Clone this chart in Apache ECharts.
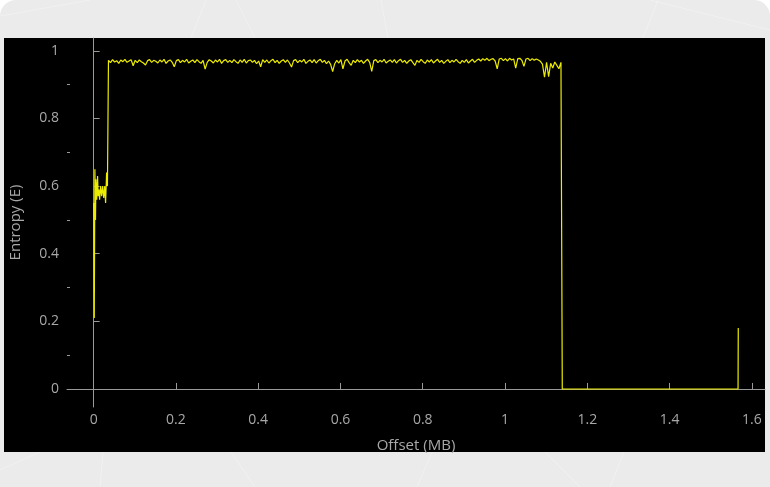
<!DOCTYPE html>
<html>
<head>
<meta charset="utf-8">
<script src="https://cdn.jsdelivr.net/npm/echarts@6/dist/echarts.min.js"></script>
<style>
  html, body { margin: 0; padding: 0; background: #ffffff; }
  #card { position: relative; width: 770px; height: 487px; background: #ebebeb; border-radius: 16px 16px 0 0; overflow: hidden; }
  #chart { position: absolute; left: 0; top: 0; width: 770px; height: 487px; }
</style>
</head>
<body>
<div id="card"><div id="chart"></div></div>
<script>
// Entropy of a firmware image, sampled per block (offset in MB).

// Header region: irregular samples near the start of the file
const headOffsets = [0.0000, 0.0003, 0.0015, 0.0030, 0.0045, 0.0055, 0.0075, 0.0095, 0.0110, 0.0130,
                     0.0145, 0.0170, 0.0195, 0.0220, 0.0245, 0.0270, 0.0290, 0.0315, 0.0335];
const headEntropy = [0.55, 0.50, 0.21, 0.65, 0.50, 0.62, 0.56, 0.63, 0.57, 0.59,
                     0.56, 0.60, 0.57, 0.60, 0.565, 0.60, 0.55, 0.64, 0.60];

// Compressed body: one sample per block
const bodyStart = 0.036;
const bodyBlock = 0.005;
const bodyEntropy = [
  0.972, 0.965, 0.974, 0.967, 0.971, 0.963, 0.973, 0.968, 0.975, 0.966,
  0.970, 0.974, 0.956, 0.972, 0.965, 0.973, 0.968, 0.964, 0.958, 0.971,
  0.974, 0.966, 0.972, 0.969, 0.964, 0.973, 0.967, 0.975, 0.963, 0.970,
  0.973, 0.966, 0.953, 0.971, 0.974, 0.965, 0.972, 0.967, 0.975, 0.964,
  0.969, 0.973, 0.965, 0.974, 0.968, 0.963, 0.972, 0.946, 0.966, 0.974,
  0.970, 0.964, 0.973, 0.967, 0.975, 0.963, 0.971, 0.974, 0.966, 0.972,
  0.965, 0.974, 0.968, 0.963, 0.973, 0.966, 0.975, 0.964, 0.971, 0.973,
  0.966, 0.972, 0.962, 0.970, 0.953, 0.974, 0.966, 0.973, 0.964, 0.971,
  0.975, 0.965, 0.972, 0.963, 0.970, 0.974, 0.966, 0.973, 0.964, 0.952,
  0.971, 0.974, 0.965, 0.972, 0.967, 0.975, 0.963, 0.969, 0.973, 0.965,
  0.974, 0.964, 0.971, 0.975, 0.966, 0.972, 0.962, 0.970, 0.960, 0.939,
  0.962, 0.972, 0.964, 0.974, 0.947, 0.970, 0.975, 0.965, 0.957, 0.972,
  0.965, 0.974, 0.967, 0.972, 0.963, 0.970, 0.975, 0.966, 0.939, 0.971,
  0.974, 0.965, 0.972, 0.967, 0.975, 0.964, 0.969, 0.973, 0.966, 0.974,
  0.964, 0.971, 0.975, 0.966, 0.972, 0.963, 0.970, 0.974, 0.965, 0.957,
  0.972, 0.966, 0.975, 0.968, 0.963, 0.973, 0.967, 0.974, 0.964, 0.970,
  0.975, 0.966, 0.972, 0.963, 0.969, 0.974, 0.965, 0.972, 0.967, 0.975,
  0.968, 0.963, 0.972, 0.966, 0.974, 0.964, 0.970, 0.975, 0.966, 0.972,
  0.976, 0.970, 0.977, 0.972, 0.978, 0.971, 0.975, 0.977, 0.970, 0.947,
  0.976, 0.978, 0.971, 0.977, 0.970, 0.978, 0.973, 0.976, 0.949, 0.977,
  0.978, 0.972, 0.954, 0.976, 0.978, 0.971, 0.977, 0.972, 0.976, 0.973,
  0.969, 0.961, 0.922, 0.966, 0.924, 0.963, 0.949, 0.967, 0.957, 0.947,
  0.966
];

// Zero-filled padding and trailing data
const tailOffsets = [1.1392, 1.5665, 1.5670];
const tailEntropy = [0.0, 0.0, 0.18];

// Axis ticks
const xTicks = [0, 0.2, 0.4, 0.6, 0.8, 1, 1.2, 1.4, 1.6];
const yTicks = [0, 0.2, 0.4, 0.6, 0.8, 1];
const yMinorTicks = [0.1, 0.3, 0.5, 0.7, 0.9];

const points = [];
headOffsets.forEach((x, i) => points.push([x, headEntropy[i]]));
bodyEntropy.forEach((e, i) => points.push([+(bodyStart + i * bodyBlock).toFixed(4), e]));
tailOffsets.forEach((x, i) => points.push([x, tailEntropy[i]]));

const axisGray = '#9a9a9a';
const labelGray = '#a8a8a8';
const font = '"Open Sans", "DejaVu Sans", sans-serif';

// faint strokes in the light surround
const streak = (x1, y1, x2, y2) => ({
  type: 'line', z: -20, silent: true,
  shape: { x1, y1, x2, y2 },
  style: { stroke: 'rgba(255,255,255,0.3)', lineWidth: 1 }
});

const chart = echarts.init(document.getElementById('chart'), null, { renderer: 'canvas' });
chart.setOption({
  backgroundColor: 'transparent',
  animation: false,
  graphic: [
    streak(0, 16, 90, 0), streak(206, 0, 191, 38), streak(236, 0, 255, 38),
    streak(381, 0, 388, 38), streak(658, 0, 643, 38), streak(650, 0, 770, 30),
    streak(103, 452, 100, 487), streak(231, 452, 255, 487), streak(432, 452, 417, 487),
    streak(545, 452, 580, 487), streak(624, 452, 610, 487), streak(0, 470, 40, 452),
    { type: 'rect', z: -10, shape: { x: 4, y: 38, width: 761, height: 414 }, style: { fill: '#000000' } }
  ],
  grid: { left: 66, top: 38, right: 5, bottom: 80, containLabel: false },
  xAxis: {
    type: 'value',
    min: -0.0648,
    max: 1.632,
    name: 'Offset (MB)',
    nameLocation: 'middle',
    nameGap: 31,
    nameTextStyle: { color: labelGray, fontFamily: font, fontSize: 15 },
    axisLine: { show: true, lineStyle: { color: axisGray, width: 1 } },
    axisTick: { show: true, inside: true, length: 6, customValues: xTicks, lineStyle: { color: axisGray } },
    axisLabel: { customValues: xTicks, color: labelGray, fontFamily: font, fontSize: 14, margin: 6,
                 formatter: v => String(+v.toFixed(1)) },
    splitLine: { show: false }
  },
  yAxis: [
    {
      type: 'value',
      position: 'left',
      min: -0.0533,
      max: 1.038,
      name: 'Entropy (E)',
      nameLocation: 'middle',
      nameGap: 44,
      nameTextStyle: { color: labelGray, fontFamily: font, fontSize: 15 },
      axisLine: { show: true, lineStyle: { color: axisGray, width: 1 } },
      axisTick: { show: true, inside: true, length: 6, customValues: yTicks, lineStyle: { color: axisGray } },
      axisLabel: { customValues: yTicks, color: labelGray, fontFamily: font, fontSize: 14, margin: 8,
                   formatter: v => String(+v.toFixed(1)) },
      splitLine: { show: false }
    },
    {
      type: 'value',
      position: 'left',
      min: -0.0533,
      max: 1.038,
      axisLine: { show: false },
      axisTick: { show: true, inside: true, length: 3, customValues: yMinorTicks, lineStyle: { color: axisGray } },
      axisLabel: { show: false },
      splitLine: { show: false }
    }
  ],
  series: [{
    type: 'line',
    data: points,
    showSymbol: false,
    symbol: 'none',
    lineStyle: { color: '#ecec00', width: 1.2 },
    clip: true
  }]
});
</script>
</body>
</html>
